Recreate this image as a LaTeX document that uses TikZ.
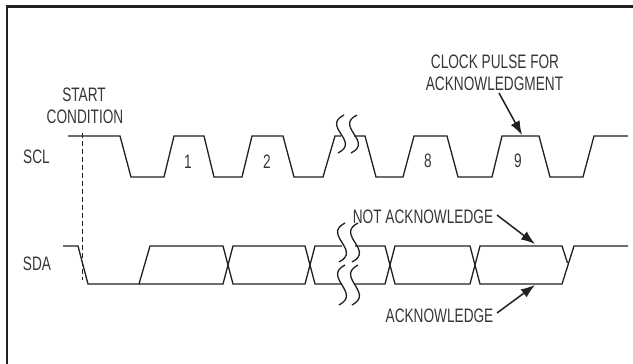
\documentclass[tikz,border=0pt]{standalone}
\usepackage{fontspec}
\setmainfont{Liberation Sans}[FakeStretch=0.70]
\usetikzlibrary{arrows.meta}
\definecolor{ink}{HTML}{231F20}
\tikzset{
  wave/.style={draw=ink, line width=1.3pt, line join=miter},
  frame/.style={draw=ink, line width=2.3pt},
  lbl/.style={text=ink!90, inner sep=0pt, anchor=base, font=\fontsize{19.5}{21}\selectfont},
  pointer/.style={draw=ink, line width=1.5pt, -{Latex[length=14pt,width=10pt]}},
  startline/.style={draw=ink, line width=0.9pt, dash pattern=on 5pt off 3pt},
  brk/.style={draw=ink, line width=1.3pt},
}
\newcommand{\squig}[3]{% x, ytop, ybot
  \draw[brk] (#1+3,#2) .. controls (#1-20,#2+0.3*#3-0.3*#2) and (#1+20,#3-0.3*#3+0.3*#2) .. (#1-3,#3);}
\begin{document}
\begin{tikzpicture}[x=1pt,y=-1pt]
\useasboundingbox (0,0) rectangle (633,364);
% frame (top and left edges)
\draw[frame] (7,364) -- (7,6.5) -- (633,6.5);

% labels
\node[lbl] (start) at (84,101) {START};
\node[lbl] (cond) at (85,123) {CONDITION};
\node[lbl] (scl) at (36.5,163) {SCL};
\node[lbl] (sda) at (37,270) {SDA};
\node[lbl] (n1) at (188,168) {1};
\node[lbl] (n2) at (267,168) {2};
\node[lbl] (n8) at (428,167) {8};
\node[lbl] (n9) at (518,167) {9};
\node[lbl] (clk1) at (495,68) {CLOCK PULSE FOR};
\node[lbl] (clk2) at (494.5,90) {ACKNOWLEDGMENT};
\node[lbl] (nack) at (423,223) {NOT ACKNOWLEDGE};
\node[lbl] (ack) at (439.5,322) {ACKNOWLEDGE};

% start condition dashed line
\coordinate (st1) at (82,133);
\coordinate (st2) at (82,280);
\draw[startline] (st1) -- (st2);

% SCL waveform
\draw[wave] (68,136) -- (120,136) -- (131,177) -- (164,177) -- (174,136) -- (204,136)
  -- (214,177) -- (242,177) -- (252,136) -- (283,136) -- (294,177) -- (323,177)
  -- (335,136) -- (341,136);
\draw[wave] (354,136) -- (365,136) -- (376,177) -- (403,177) -- (414,136) -- (447,136)
  -- (458,177) -- (492,177) -- (502,136) -- (539,136) -- (550,177) -- (583,177)
  -- (594,136) -- (628,136);
\squig{341}{115}{153}
\squig{354}{115}{153}

% SDA waveform
\draw[wave] (63,246) -- (78,246) -- (88,284) -- (139,284) -- (150,246) -- (223,246) -- (233,284)
  -- (305,284) -- (315,246) -- (342,246);
\draw[wave] (139,284) -- (223,284) -- (233,246) -- (305,246) -- (315,284) -- (342,284);
\draw[wave] (355,246) -- (385,246) -- (395,284) -- (470,284) -- (480,246) -- (562,246) -- (567.5,263);
\draw[wave] (355,284) -- (385,284) -- (395,246) -- (470,246) -- (480,284) -- (562,284) -- (574,246) -- (628,246);
\squig{342}{223}{262}
\squig{355}{223}{262}
\squig{342}{265}{305}
\squig{355}{265}{305}

% pointers
\coordinate (clkT) at (499,93);
\coordinate (clkH) at (522,135);
\coordinate (nackT) at (497,215);
\coordinate (nackH) at (535,244);
\coordinate (ackT) at (497,313);
\coordinate (ackH) at (535,285);
\draw[pointer] (clkT) -- (clkH);
\draw[pointer] (nackT) -- (nackH);
\draw[pointer] (ackT) -- (ackH);
\end{tikzpicture}
\end{document}
